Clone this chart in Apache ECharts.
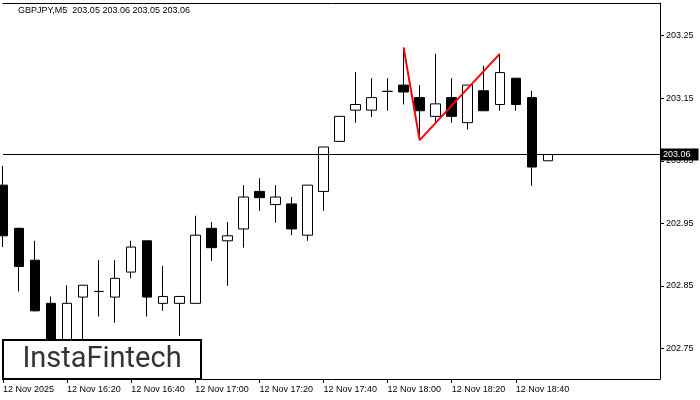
<!DOCTYPE html>
<html><head><meta charset="utf-8">
<script src="https://cdn.jsdelivr.net/npm/echarts@6/dist/echarts.min.js"></script>
<style>html,body{margin:0;padding:0;background:#fff}#c{width:700px;height:400px}</style>
</head><body><div id="c"></div>
<script>
// ---- data (GBPJPY, M5, 12 Nov 2025, from 16:00) ----
const times = ["16:00","16:05","16:10","16:15","16:20","16:25","16:30","16:35","16:40","16:45","16:50","16:55",
  "17:00","17:05","17:10","17:15","17:20","17:25","17:30","17:35","17:40","17:45","17:50","17:55",
  "18:00","18:05","18:10","18:15","18:20","18:25","18:30","18:35","18:40","18:45","18:50",
  "18:55","19:00","19:05","19:10","19:15","19:20","19:25"];
const opens  = [203.011,202.942,202.891,202.822,202.756,202.832,202.841,202.832,202.872,202.922,202.822,202.822,
  202.822,202.942,202.922,202.941,203.001,202.980,202.981,202.931,203.001,203.081,203.131,203.131,
  203.161,203.171,203.151,203.121,203.151,203.111,203.162,203.140,203.182,203.151,203.050];
const closes = [202.930,202.881,202.810,202.755,202.822,202.851,202.841,202.862,202.912,202.832,202.833,202.833,
  202.931,202.911,202.930,202.992,202.991,202.992,202.941,203.011,203.072,203.121,203.140,203.151,
  203.161,203.160,203.130,203.141,203.121,203.171,203.130,203.191,203.140,203.040,203.060];
const highs  = [203.042,202.943,202.922,202.833,202.851,202.851,202.891,202.891,202.922,202.922,202.882,202.833,
  202.962,202.952,202.952,203.011,203.022,203.011,202.992,203.011,203.072,203.121,203.192,203.182,
  203.182,203.231,203.171,203.221,203.182,203.171,203.202,203.221,203.182,203.162,203.060];
const lows   = [202.912,202.841,202.809,202.740,202.745,202.755,202.801,202.791,202.862,202.801,202.810,202.770,
  202.822,202.890,202.850,202.911,202.970,202.951,202.931,202.922,202.970,203.081,203.111,203.120,
  203.130,203.140,203.083,203.110,203.111,203.100,203.130,203.130,203.130,203.010,203.050];
// double top pattern line: index -> price
const patternIdx  = [25, 26, 31];
const patternVals = [203.231, 203.083, 203.221];
const currentPrice = 203.06;
const yTicks = [202.75, 202.85, 202.95, 203.05, 203.15, 203.25];
const labelEvery = 4, lastLabelIdx = 32;
const titleText = "GBPJPY,M5  203.05 203.06 203.05 203.06";

// ---- build ----
const cats = times.map((t, i) => i === 0 ? "12 Nov 2025" : "12 Nov " + t);
const candles = opens.map((o, i) => [o, closes[i], lows[i], highs[i]]);
const pattern = cats.map(() => null);
patternIdx.forEach((ix, j) => { pattern[ix] = patternVals[j]; });
const showTick = (i) => i % labelEvery === 0 && i <= lastLabelIdx;
const F = "Liberation Sans";

const chart = echarts.init(document.getElementById('c'), null, {renderer: 'canvas'});
chart.setOption({
  animation: false,
  backgroundColor: '#fff',
  grid: {left: 3, right: 40, top: 3, bottom: 21},
  xAxis: [{
    type: 'category', data: cats, boundaryGap: false, position: 'bottom',
    axisLine: {show: true, lineStyle: {color: '#000', width: 1}},
    axisTick: {show: true, interval: (i) => showTick(i), length: 4, lineStyle: {color: '#000'}},
    axisLabel: {interval: (i) => showTick(i), align: 'left', margin: 6, color: '#000', fontFamily: F, fontSize: 9},
    splitLine: {show: false}
  }, {
    type: 'category', data: cats, boundaryGap: false, position: 'top',
    axisLine: {show: true, lineStyle: {color: '#000', width: 1}},
    axisTick: {show: false}, axisLabel: {show: false}, splitLine: {show: false}
  }],
  yAxis: {
    type: 'value', position: 'right', min: 202.701, max: 203.3023, scale: true,
    axisLine: {show: true, lineStyle: {color: '#000', width: 1}},
    axisTick: {show: true, customValues: yTicks, length: 4, lineStyle: {color: '#000'}},
    axisLabel: {customValues: yTicks, formatter: (v) => v.toFixed(2), margin: 6, color: '#000', fontFamily: F, fontSize: 9},
    splitLine: {show: false}
  },
  series: [{
    type: 'candlestick', data: candles, barWidth: 10,
    itemStyle: {color: '#fff', color0: '#000', borderColor: '#000', borderColor0: '#000', borderWidth: 1},
    markLine: {
      silent: true, symbol: ['none', 'none'],
      lineStyle: {color: '#000', width: 1, type: 'solid'},
      label: {show: true, position: 'end', formatter: currentPrice.toFixed(2), distance: 0,
        backgroundColor: '#000', color: '#fff', fontFamily: F, fontSize: 9, padding: [2, 8, 1, 3]},
      data: [{yAxis: currentPrice}]
    }
  }, {
    type: 'line', data: pattern, connectNulls: true, showSymbol: false, symbol: 'none',
    lineStyle: {color: '#ff0000', width: 2}, z: 5
  }],
  graphic: [
    {type: 'text', left: 18, top: 6, style: {text: titleText, fill: '#000', font: '9px "Liberation Sans"'}},
    {type: 'rect', shape: {x: 3, y: 340, width: 198, height: 39}, style: {fill: '#fff', stroke: '#000', lineWidth: 2}, z: 100},
    {type: 'text', x: 102, y: 360, style: {text: 'InstaFintech', fill: '#333', font: '29px Roboto', textAlign: 'center', textVerticalAlign: 'middle'}, z: 101}
  ]
});
</script></body></html>
